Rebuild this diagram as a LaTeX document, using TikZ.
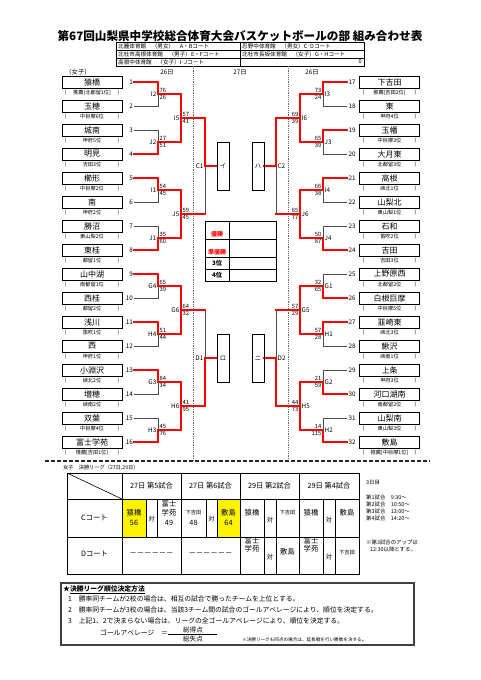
\documentclass[tikz,border=0pt]{standalone}
\usepackage{fontspec}
\setmainfont{Noto Sans CJK JP}
\tikzset{
  bl/.style={line width=0.6pt, draw=black!70},
  rd/.style={line width=1.6pt, draw=red, line cap=rect},
  tl/.style={line width=0.6pt, draw=black},
  tbox/.style={draw=black, line width=0.7pt, minimum width=60pt, minimum height=12pt, inner sep=0pt, font=\fontsize{8}{8}\selectfont},
  tsub/.style={inner sep=0pt, font=\fontsize{5.2}{5.2}\selectfont},
  tsc/.style={inner sep=0pt, font=\fontsize{5.8}{5.8}\selectfont},
  tlb/.style={inner sep=0pt, font=\fontsize{6.3}{6.3}\selectfont},
  tnum/.style={inner sep=0pt, font=\fontsize{6.3}{6.3}\selectfont},
  tt/.style={inner sep=0pt, font=\fontsize{7.3}{7.3}\selectfont},
  ttai/.style={inner sep=0pt, font=\fontsize{6.3}{6.3}\selectfont},
  tsm/.style={inner sep=0pt, font=\fontsize{5.3}{5.3}\selectfont},
  tnote/.style={inner sep=0pt, anchor=west, font=\fontsize{5.4}{5.4}\selectfont},
  trule/.style={inner sep=0pt, anchor=west, font=\fontsize{6.8}{6.8}\selectfont},
  thead/.style={inner sep=0pt, anchor=west, font=\fontsize{5.6}{5.6}\selectfont},
  dline/.style={line width=0.5pt, draw=black!60, dash pattern=on 1.2pt off 1pt},
}
% team boxes
\newcommand\teamL[4]{%
  \node[tbox] (nL#1) at (92,#2) {#3};
  \node[tsub] at (92,#2+11) {#4};
  \node[tsub] at (64,#2+11) {（};
  \node[tsub] at (120,#2+11) {）};
  \node[tnum,anchor=east] (kL#1) at (133,#2) {#1};
}
\newcommand\teamR[4]{%
  \node[tbox] (nR#1) at (389.5,#2) {#3};
  \node[tsub] at (389.5,#2+11) {#4};
  \node[tsub] at (362,#2+11) {（};
  \node[tsub] at (417,#2+11) {）};
  \node[tnum,anchor=west] (kR#1) at (348.5,#2) {#1};
}
% left bracket rounds
\newcommand\roL[5]{%
  \draw[bl] (134,#1)--(158,#1)--(158,#1+24)--(134,#1+24);
  \ifnum#2=1 \draw[rd] (134,#1)--(158,#1)--(158,#1+12)--(181,#1+12);
  \else \draw[rd] (134,#1+24)--(158,#1+24)--(158,#1+12)--(181,#1+12);\fi
  \node[tsc,anchor=west] at (159.5,#1+8) {#3};
  \node[tsc,anchor=west] at (159.5,#1+15.8) {#4};
  \node[tlb,anchor=east] at (156.5,#1+12) {#5};
}
\newcommand\rtL[4]{%
  \draw[rd] (181,#1)--(181,#1+48);
  \draw[rd] (181,#1+24)--(205,#1+24);
  \node[tsc,anchor=west] at (182.5,#1+20) {#2};
  \node[tsc,anchor=west] at (182.5,#1+27.8) {#3};
  \node[tlb,anchor=east] at (179.5,#1+24) {#4};
}
\newcommand\rhL[3]{%
  \draw[bl] (205,#1)--(205,#1+96);
  \ifnum#2=1 \draw[rd] (205,#1)--(205,#1+48)--(217,#1+48);
  \else \draw[rd] (205,#1+96)--(205,#1+48)--(217,#1+48);\fi
  \node[tlb,anchor=east] at (203.5,#1+48) {#3};
}
% right bracket rounds
\newcommand\roR[5]{%
  \draw[bl] (347,#1)--(323,#1)--(323,#1+24)--(347,#1+24);
  \ifnum#2=1 \draw[rd] (347,#1)--(323,#1)--(323,#1+12)--(300,#1+12);
  \else \draw[rd] (347,#1+24)--(323,#1+24)--(323,#1+12)--(300,#1+12);\fi
  \node[tsc,anchor=east] at (321.5,#1+8) {#3};
  \node[tsc,anchor=east] at (321.5,#1+15.8) {#4};
  \node[tlb,anchor=west] at (324.5,#1+12) {#5};
}
\newcommand\rtR[4]{%
  \draw[rd] (300,#1)--(300,#1+48);
  \draw[rd] (300,#1+24)--(276,#1+24);
  \node[tsc,anchor=east] at (298.5,#1+20) {#2};
  \node[tsc,anchor=east] at (298.5,#1+27.8) {#3};
  \node[tlb,anchor=west] at (301.5,#1+24) {#4};
}
\newcommand\rhR[3]{%
  \draw[bl] (276,#1)--(276,#1+96);
  \ifnum#2=1 \draw[rd] (276,#1)--(276,#1+48)--(264,#1+48);
  \else \draw[rd] (276,#1+96)--(276,#1+48)--(264,#1+48);\fi
  \node[tlb,anchor=west] at (277.5,#1+48) {#3};
}
\begin{document}
\begin{tikzpicture}[x=1pt,y=-1pt]
\useasboundingbox (0,0) rectangle (481,680);
\fill[white] (0,0) rectangle (481,680);

% title
\node[inner sep=0pt, font=\fontsize{11.6}{11.6}\selectfont\bfseries] (title) at (240,36) {第67回山梨県中学校総合体育大会バスケットボールの部 組み合わせ表};

% venue table
\draw[tl] (116,42) rectangle (364,66);
\draw[tl] (116,50)--(364,50) (116,58)--(364,58) (240,42)--(240,66);
\node[thead] at (118,46) {北麓体育館　（男女）　A・Bコート};
\node[thead] at (242,46) {忍野中体育館　（男女）C･Dコート};
\node[thead] at (118,54) {北杜市高根体育館　（男子）E・Fコート};
\node[thead] at (242,54) {北杜市長坂体育館　（女子）G・Hコート};
\node[thead] at (118,62) {高根中体育館　（女子）I･Jコート};
\node[thead, anchor=east] at (362,62) {0};

% day headers
\node[tlb] at (78,72) {（女子）};
\node[tlb] at (167,72) {26日};
\node[tlb] at (240,72) {27日};
\node[tlb] at (312,72) {26日};

% dashed dividers
\draw[dline] (193,66)--(193,461);
\draw[dline] (288,66)--(288,461);

% teams left
\teamL{1}{82}{猿橋}{推薦[北都留1位]}
\teamL{2}{106}{玉穂}{中巨摩6位}
\teamL{3}{130}{城南}{甲府5位}
\teamL{4}{154}{明見}{吉田3位}
\teamL{5}{178}{櫛形}{中巨摩2位}
\teamL{6}{202}{南}{甲府2位}
\teamL{7}{226}{勝沼}{東山梨2位}
\teamL{8}{250}{東桂}{都留1位}
\teamL{9}{274}{山中湖}{南都留1位}
\teamL{10}{298}{西桂}{都留2位}
\teamL{11}{322}{浅川}{笛吹1位}
\teamL{12}{346}{西}{甲府1位}
\teamL{13}{370}{小淵沢}{峡北2位}
\teamL{14}{394}{増穂}{峡南2位}
\teamL{15}{418}{双葉}{中巨摩4位}
\teamL{16}{442}{富士学苑}{推薦[吉田1位]}
% teams right
\teamR{17}{82}{下吉田}{推薦[吉田2位]}
\teamR{18}{106}{東}{甲府4位}
\teamR{19}{130}{玉幡}{中巨摩3位}
\teamR{20}{154}{大月東}{北都留3位}
\teamR{21}{178}{高根}{峡北1位}
\teamR{22}{202}{山梨北}{東山梨1位}
\teamR{23}{226}{石和}{笛吹2位}
\teamR{24}{250}{吉田}{吉田3位}
\teamR{25}{274}{上野原西}{北都留2位}
\teamR{26}{298}{白根巨摩}{中巨摩5位}
\teamR{27}{322}{韮崎東}{峡北3位}
\teamR{28}{346}{鰍沢}{峡南1位}
\teamR{29}{370}{上条}{甲府3位}
\teamR{30}{394}{河口湖南}{南都留2位}
\teamR{31}{418}{山梨南}{東山梨3位}
\teamR{32}{442}{敷島}{推薦[中巨摩1位]}

% left bracket
\rhL{118}{1}{C1}
\rhL{310}{2}{D1}
\roL{82}{1}{76}{26}{I2}
\roL{130}{2}{27}{51}{J2}
\roL{178}{1}{54}{45}{I1}
\roL{226}{2}{35}{60}{J1}
\roL{274}{1}{65}{39}{G4}
\roL{322}{1}{51}{44}{H4}
\roL{370}{1}{84}{34}{G3}
\roL{418}{2}{45}{76}{H3}
\rtL{94}{57}{41}{I5}
\rtL{190}{59}{45}{J5}
\rtL{286}{64}{32}{G6}
\rtL{382}{41}{95}{H6}

% right bracket
\rhR{118}{1}{C2}
\rhR{310}{2}{D2}
\roR{82}{1}{73}{24}{I3}
\roR{130}{1}{65}{39}{J3}
\roR{178}{1}{66}{38}{I4}
\roR{226}{2}{50}{87}{J4}
\roR{274}{2}{32}{65}{G1}
\roR{322}{1}{57}{28}{H1}
\roR{370}{2}{21}{59}{G2}
\roR{418}{2}{14}{115}{H2}
\rtR{94}{69}{39}{I6}
\rtR{190}{65}{77}{J6}
\rtR{286}{57}{29}{G5}
\rtR{382}{44}{73}{H5}

% semifinal boxes
\draw[tl] (217,142) rectangle (229,190);
\node[tlb] (bI) at (223,166) {イ};
\draw[tl] (252,142) rectangle (264,190);
\node[tlb] (bHa) at (258,166) {ハ};
\draw[tl] (217,334) rectangle (229,382);
\node[tlb] (bRo) at (223,358) {ロ};
\draw[tl] (252,334) rectangle (264,382);
\node[tlb] (bNi) at (258,358) {ニ};

% result table
\draw[tl] (205,221) rectangle (276,281);
\draw[tl] (205,239)--(276,239) (205,257)--(276,257) (205,269)--(276,269) (229,221)--(229,281);
\node[tsc, text=red, font=\fontsize{6}{6}\selectfont\bfseries] at (217,234) {優勝};
\node[tsc, text=red, font=\fontsize{6}{6}\selectfont\bfseries] at (217,252) {準優勝};
\node[tsc, font=\fontsize{6.2}{6.2}\selectfont\bfseries] at (217,263) {3位};
\node[tsc, font=\fontsize{6.2}{6.2}\selectfont\bfseries] at (217,275) {4位};

% separator
\draw[line width=1.3pt, black!85, dash pattern=on 4pt off 2pt] (45,461)--(430,461);

% league table
\node[tnote, font=\fontsize{5.2}{5.2}\selectfont] at (63,467.5) {女子　決勝リーグ（27日,29日）};
\fill[yellow] (122,499) rectangle (146,537);
\fill[yellow] (217,499) rectangle (240,537);
\draw[tl] (67,473) rectangle (359,574);
\draw[tl] (67,499)--(359,499) (67,537)--(359,537);
\foreach \x in {122,181,240,299} \draw[tl] (\x,473)--(\x,574);
\draw[tl] (67,473)--(122,499);
\foreach \x in {146,157,206,217} \draw[tl] (\x,499)--(\x,537);
\foreach \x in {264,276,323,335} \draw[tl] (\x,499)--(\x,574);
\node[tt] at (151.5,486) {27日 第5試合};
\node[tt] at (210.5,486) {27日 第6試合};
\node[tt] at (269.5,486) {29日 第2試合};
\node[tt] at (329,486) {29日 第4試合};
\node[tt] at (94.5,518) {Cコート};
\node[tt] at (94.5,554) {Dコート};
% C row
\node[tt] at (134,513) {猿橋}; \node[tt] at (134,523) {56};
\node[ttai] at (151.5,519) {対};
\node[tt] at (169,503.5) {富士}; \node[tt] at (169,513) {学苑}; \node[tt] at (169,523) {49};
\node[tsm] at (193.5,513) {下吉田}; \node[tt] at (193.5,523) {48};
\node[ttai] at (211.5,519) {対};
\node[tt] at (228.5,513) {敷島}; \node[tt] at (228.5,523) {64};
\node[tt] at (252,513) {猿橋}; \node[ttai] at (270,520) {対}; \node[tsm] at (287.5,513) {下吉田};
\node[tt] at (311,513) {猿橋}; \node[ttai] at (329,520) {対}; \node[tt] at (347,513) {敷島};
% D row
\node[tt] at (151.5,554) {－－－－－－};
\node[tt] at (210.5,554) {－－－－－－};
\node[tt] at (252,541) {富士}; \node[tt] at (252,549) {学苑};
\node[ttai] at (270,557) {対}; \node[tt] at (287.5,552) {敷島};
\node[tt] at (311,541) {富士}; \node[tt] at (311,549) {学苑};
\node[ttai] at (329,557) {対}; \node[tsm] at (347,553) {下吉田};

% schedule notes
\node[tnote] at (366,483) {3日目};
\node[tnote] at (366,497.5) {第1試合　9:30～};
\node[tnote] at (366,504.5) {第2試合　10:50～};
\node[tnote] at (366,511.5) {第3試合　13:00～};
\node[tnote] at (366,518.5) {第4試合　14:20～};
\node[tnote] at (366,542) {※第3試合のアップは};
\node[tnote] at (370,549) {12:30以降とする。};

% rules box
\draw[line width=1.6pt, black!75] (61,583) rectangle (414,645);
\node[trule, font=\fontsize{6.8}{6.8}\selectfont\bfseries] at (63,589.5) {★\underline{決勝リーグ順位決定方法}};
\node[trule] at (68,599) {1　勝率同チームが2校の場合は、相互の試合で勝ったチームを上位とする。};
\node[trule] at (68,609.5) {2　勝率同チームが3校の場合は、当該3チーム間の試合のゴールアベレージにより、順位を決定する。};
\node[trule] at (68,621) {3　上記1、2で決まらない場合は、リーグの全ゴールアベレージにより、順位を決定する。};
\node[trule] at (100,633) {ゴールアベレージ　＝};
\draw[line width=0.6pt] (168,634)--(217,634);
\node[tt, font=\fontsize{6.6}{6.6}\selectfont] at (193,629.5) {総得点};
\node[tt, font=\fontsize{6.6}{6.6}\selectfont] at (193,639) {総失点};
\node[tnote, font=\fontsize{4.6}{4.6}\selectfont] at (242,640) {※決勝リーグも同点の場合は、延長戦を行い勝敗を決する。};
\end{tikzpicture}
\end{document}
